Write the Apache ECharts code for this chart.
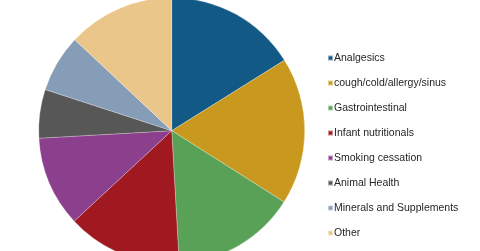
<!DOCTYPE html>
<html><head><meta charset="utf-8">
<script src="https://cdn.jsdelivr.net/npm/echarts@6/dist/echarts.min.js"></script>
<style>html,body{margin:0;padding:0;background:#fff}#c{width:480px;height:251px}</style>
</head><body><div id="c"></div>
<script>
const categories = ["Analgesics","cough/cold/allergy/sinus","Gastrointestinal","Infant nutritionals","Smoking cessation","Animal Health","Minerals and Supplements","Other"];
const values = [16.1, 17.9, 15.1, 14.0, 11.0, 5.9, 7.0, 13.0];
const colors = ["#135985","#C9991F","#58A157","#A01920","#8C3F8D","#575757","#869DB8","#EBC68B"];
const chart = echarts.init(document.getElementById('c'), null, {renderer:'canvas'});
const txt = {fontFamily:'Liberation Sans, Arial', fontSize:10.5, color:'#262626', lineHeight:12};
chart.setOption({
  animation:false,
  color: colors,
  legend:[{
    orient:'vertical', left:327, top:52, padding:0,
    itemWidth:5, itemHeight:5, itemGap:13, icon:'rect',
    textStyle:txt, formatter:()=>' ', selectedMode:false,
    data: categories
  },{
    orient:'vertical', left:328, top:52, padding:0,
    itemWidth:0, itemHeight:5, itemGap:13, icon:'rect',
    textStyle:txt, selectedMode:false,
    itemStyle:{opacity:0},
    data: categories
  }],
  series:[{
    type:'pie', center:[171.7,130.7], radius:133, startAngle:90, clockwise:true,
    label:{show:false}, labelLine:{show:false},
    itemStyle:{borderColor:'rgba(255,255,255,0.5)', borderWidth:0.5},
    emphasis:{disabled:true},
    data: categories.map((n,i)=>({name:n, value:values[i]}))
  }]
});
</script></body></html>
